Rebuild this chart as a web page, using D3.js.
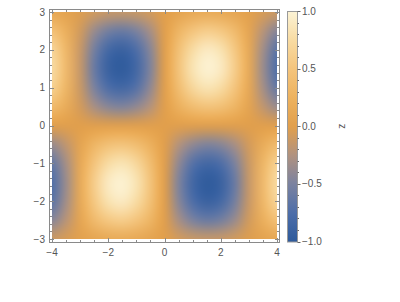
<!DOCTYPE html>
<html>
<head>
<meta charset="utf-8">
<script src="https://cdn.jsdelivr.net/npm/d3@7"></script>
<style>
  body { margin: 0; background: #fff; }
  text { font-family: "Liberation Sans", Arial, sans-serif; font-size: 10px; fill: #555; }
</style>
</head>
<body>
<svg id="chart" width="400" height="302"></svg>
<script>
// grid of z values (rows run top to bottom, y = 3 .. -3)
const xGrid = [-4, -3.5, -3, -2.5, -2, -1.5, -1, -0.5, 0, 0.5, 1, 1.5, 2, 2.5, 3, 3.5, 4];
const yGrid = [3, 2.5, 2, 1.5, 1, 0.5, 0, -0.5, -1, -1.5, -2, -2.5, -3];
const zRows = [
  [ 0.11,  0.05, -0.02, -0.08, -0.13, -0.14, -0.12, -0.07, 0,  0.07,  0.12,  0.14,  0.13,  0.08,  0.02, -0.05, -0.11],
  [ 0.45,  0.21, -0.08, -0.36, -0.54, -0.60, -0.50, -0.29, 0,  0.29,  0.50,  0.60,  0.54,  0.36,  0.08, -0.21, -0.45],
  [ 0.69,  0.32, -0.13, -0.54, -0.83, -0.91, -0.76, -0.44, 0,  0.44,  0.76,  0.91,  0.83,  0.54,  0.13, -0.32, -0.69],
  [ 0.75,  0.35, -0.14, -0.60, -0.91, -0.99, -0.84, -0.48, 0,  0.48,  0.84,  0.99,  0.91,  0.60,  0.14, -0.35, -0.75],
  [ 0.64,  0.30, -0.12, -0.50, -0.76, -0.84, -0.71, -0.40, 0,  0.40,  0.71,  0.84,  0.76,  0.50,  0.12, -0.30, -0.64],
  [ 0.36,  0.17, -0.07, -0.29, -0.44, -0.48, -0.40, -0.23, 0,  0.23,  0.40,  0.48,  0.44,  0.29,  0.07, -0.17, -0.36],
  [ 0,     0,     0,     0,     0,     0,     0,     0,    0,  0,     0,     0,     0,     0,     0,     0,     0   ],
  [-0.36, -0.17,  0.07,  0.29,  0.44,  0.48,  0.40,  0.23, 0, -0.23, -0.40, -0.48, -0.44, -0.29, -0.07,  0.17,  0.36],
  [-0.64, -0.30,  0.12,  0.50,  0.76,  0.84,  0.71,  0.40, 0, -0.40, -0.71, -0.84, -0.76, -0.50, -0.12,  0.30,  0.64],
  [-0.75, -0.35,  0.14,  0.60,  0.91,  0.99,  0.84,  0.48, 0, -0.48, -0.84, -0.99, -0.91, -0.60, -0.14,  0.35,  0.75],
  [-0.69, -0.32,  0.13,  0.54,  0.83,  0.91,  0.76,  0.44, 0, -0.44, -0.76, -0.91, -0.83, -0.54, -0.13,  0.32,  0.69],
  [-0.45, -0.21,  0.08,  0.36,  0.54,  0.60,  0.50,  0.29, 0, -0.29, -0.50, -0.60, -0.54, -0.36, -0.08,  0.21,  0.45],
  [-0.11, -0.05,  0.02,  0.08,  0.13,  0.14,  0.12,  0.07, 0, -0.07, -0.12, -0.14, -0.13, -0.08, -0.02,  0.05,  0.11]
];
const xTickLabels = [-4, -2, 0, 2, 4];
const yTickLabels = [-3, -2, -1, 0, 1, 2, 3];
const zTickLabels = [-1, -0.5, 0, 0.5, 1];
const legendTitle = "z";

// colour gradient (blue -> gray -> orange -> cream)
const gradDomain = [-1, -0.75, -0.5, -0.25, 0, 0.25, 0.5, 0.75, 1];
const gradColors = ["#2e5a9b", "#4d6ea9", "#7a82a0", "#b09280", "#e19f4c", "#edb25f", "#f4c47c", "#f8dba2", "#fcf3d5"];

const color = d3.scaleLinear().domain(gradDomain).range(gradColors).clamp(true);

const svg = d3.select("#chart");
svg.append("rect").attr("width", 400).attr("height", 302).attr("fill", "#fff");

const x = d3.scaleLinear().domain([-4, 4]).range([52, 277]);
const y = d3.scaleLinear().domain([-3, 3]).range([239, 12]);

// density image: one pixel per grid point, smoothed when scaled up
const nx = xGrid.length, ny = yGrid.length;
const small = document.createElement("canvas");
small.width = nx; small.height = ny;
const sctx = small.getContext("2d");
const img = sctx.createImageData(nx, ny);
zRows.forEach((row, j) => row.forEach((v, i) => {
  const c = d3.rgb(color(v));
  const k = (j * nx + i) * 4;
  img.data[k] = c.r; img.data[k + 1] = c.g; img.data[k + 2] = c.b; img.data[k + 3] = 255;
}));
sctx.putImageData(img, 0, 0);

const pw = Math.round(x(4) - x(-4)), ph = Math.round(y(-3) - y(3));
const big = document.createElement("canvas");
big.width = pw; big.height = ph;
const bctx = big.getContext("2d");
bctx.imageSmoothingEnabled = true;
bctx.imageSmoothingQuality = "high";
const cw = (x(xGrid[1]) - x(xGrid[0]));
const ch = (y(yGrid[1]) - y(yGrid[0]));
bctx.drawImage(small, 0, 0, nx, ny, -cw / 2, -ch / 2, cw * nx, ch * ny);

svg.append("image")
  .attr("x", x(-4)).attr("y", y(3))
  .attr("width", pw).attr("height", ph)
  .attr("preserveAspectRatio", "none")
  .attr("href", big.toDataURL());

// frame with inward ticks on all four sides
const fx0 = 49.5, fx1 = 279.5, fy0 = 9.5, fy1 = 242.5;
const frameColor = "#8a8a8a";
svg.append("rect")
  .attr("x", fx0).attr("y", fy0).attr("width", fx1 - fx0).attr("height", fy1 - fy0)
  .attr("fill", "none").attr("stroke", frameColor).attr("stroke-width", 1);

const ticks = svg.append("g").attr("stroke", frameColor).attr("stroke-width", 1);
const xMinor = d3.range(-4, 4.01, 0.5);
xMinor.forEach(v => {
  const major = xTickLabels.includes(v);
  const len = major ? 4.5 : 2.5;
  const px = Math.round(x(v)) + 0.5;
  ticks.append("line").attr("x1", px).attr("x2", px).attr("y1", fy1).attr("y2", fy1 - len);
  ticks.append("line").attr("x1", px).attr("x2", px).attr("y1", fy0).attr("y2", fy0 + len);
});
const yMinor = d3.range(-3, 3.01, 0.2).map(v => Math.round(v * 10) / 10);
yMinor.forEach(v => {
  const major = yTickLabels.includes(v);
  const len = major ? 4.5 : 2.5;
  const py = Math.round(y(v)) + 0.5;
  ticks.append("line").attr("y1", py).attr("y2", py).attr("x1", fx0).attr("x2", fx0 + len);
  ticks.append("line").attr("y1", py).attr("y2", py).attr("x1", fx1).attr("x2", fx1 - len);
});

const fmtAxis = d => (d < 0 ? "\u2212" + Math.abs(d) : String(d));
svg.append("g").selectAll("text").data(xTickLabels).join("text")
  .attr("x", d => x(d)).attr("y", 256)
  .attr("text-anchor", "middle")
  .text(fmtAxis);
svg.append("g").selectAll("text").data(yTickLabels).join("text")
  .attr("x", 45).attr("y", d => y(d)).attr("dy", "0.35em")
  .attr("text-anchor", "end")
  .text(fmtAxis);

// colour bar legend
const lx = 287, lw = 10;
const ly = d3.scaleLinear().domain([-1, 1]).range([241.5, 11]);
const defs = svg.append("defs");
const lg = defs.append("linearGradient").attr("id", "zgrad")
  .attr("x1", 0).attr("y1", 1).attr("x2", 0).attr("y2", 0);
lg.selectAll("stop").data(gradDomain).join("stop")
  .attr("offset", d => (d + 1) / 2)
  .attr("stop-color", d => color(d));
svg.append("rect")
  .attr("x", lx + 0.5).attr("y", ly(1) + 0.5)
  .attr("width", lw).attr("height", ly(-1) - ly(1))
  .attr("fill", "url(#zgrad)")
  .attr("stroke", "#9a9a9a").attr("stroke-width", 1);

const zMinor = d3.range(-1, 1.001, 0.1).map(v => Math.round(v * 10) / 10);
const lticks = svg.append("g").attr("stroke", "#666").attr("stroke-width", 1);
zMinor.forEach(v => {
  const major = zTickLabels.includes(v);
  const py = Math.round(ly(v)) + 0.5;
  lticks.append("line").attr("x1", lx + lw + 0.5).attr("x2", lx + lw + 0.5 + (major ? 3 : 1.5))
    .attr("y1", py).attr("y2", py);
});
const fmtZ = d => (d < 0 ? "\u2212" : "") + Math.abs(d).toFixed(1);
svg.append("g").selectAll("text").data(zTickLabels).join("text")
  .attr("x", 302).attr("y", d => ly(d)).attr("dy", "0.35em")
  .text(fmtZ);

svg.append("text")
  .attr("transform", "translate(345," + ly(0) + ") rotate(-90)")
  .attr("text-anchor", "middle")
  .text(legendTitle);
</script>
</body>
</html>
